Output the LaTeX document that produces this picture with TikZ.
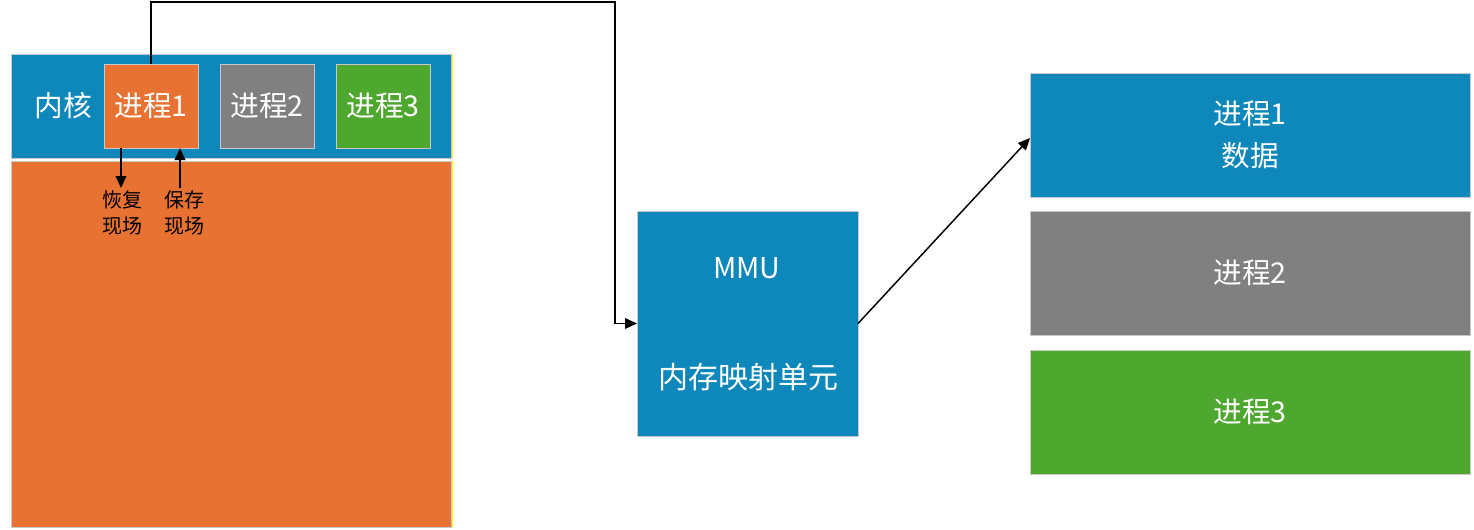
\documentclass[tikz,border=0pt]{standalone}
\usepackage{fontspec}
\setmainfont{Noto Sans CJK SC}
\usetikzlibrary{arrows.meta}
\definecolor{kblue}{HTML}{0E88BB}
\definecolor{korange}{HTML}{E87232}
\definecolor{kgray}{HTML}{808080}
\definecolor{kgreen}{HTML}{4EA72E}
\definecolor{kedge}{HTML}{C8C8C8}
\definecolor{kyellow}{HTML}{FFFF00}
\begin{document}
\begin{tikzpicture}[x=0.75pt,y=-0.75pt,
  box/.style 2 args={draw=kedge,line width=0.75pt,inner sep=0pt,outer sep=0pt,
    text=white,minimum width=#1*0.75pt,minimum height=#2*0.75pt,align=center},
  bigtxt/.style={font=\fontsize{21.5}{28}\selectfont},
  smalltxt/.style={font=\fontsize{15}{20}\selectfont,align=center,inner sep=0pt},
  conn/.style={draw=black,line width=1.1pt,-{Triangle[length=9pt,width=8pt]}},
  plain/.style={draw=black,line width=1.1pt}]
\useasboundingbox (0,0) rectangle (1474,529);
% kernel area
\node[box={440}{104},fill=kblue] (kernel) at (231,106) {};
\node[box={440}{366},fill=korange] (user) at (231,344) {};
\draw[kyellow,line width=1.3pt] (kernel.north east) ++(1.5,0) -- ++(0,104);
\draw[kyellow,line width=1.3pt] (user.north east) ++(1.5,0) -- ++(0,366);
\node[text=white,bigtxt] (klabel) at (63,106) {内核};
\node[box={94}{84},fill=korange,bigtxt] (p1) at (151,106) {进程1};
\node[box={94}{84},fill=kgray,bigtxt] (p2) at (267,106) {进程2};
\node[box={94}{84},fill=kgreen,bigtxt] (p3) at (383,106) {进程3};
% labels
\node[smalltxt] (restore) at (122,213) {恢复\\现场};
\node[smalltxt] (save) at (184,213) {保存\\现场};
\draw[conn] ([xshift=-30*0.75pt]p1.south) -- ([xshift=-30*0.75pt]p1.south |- 0,188);
\draw[conn] ([xshift=29*0.75pt]p1.south |- 0,188) -- ([xshift=29*0.75pt]p1.south);
% MMU
\node[box={221}{225},fill=kblue] (mmu) at (747.5,323.5) {};
\node[text=white,bigtxt] (mmut) at (747,268) {MMU};
\node[text=white,font=\fontsize{22.5}{28}\selectfont] (mmud) at (748,377) {内存映射单元};
% right side
\node[box={440}{124},fill=kblue,font=\fontsize{21.5}{31}\selectfont] (r1) at (1250,135) {进程1\\数据};
\node[box={440}{124},fill=kgray,bigtxt] (r2) at (1250,273) {进程2};
\node[box={440}{124},fill=kgreen,bigtxt] (r3) at (1250,412) {进程3};
% connectors
\coordinate (c1) at (151,2);
\coordinate (c2) at (615,2);
\draw[conn] (p1.north) -- (c1) -- (c2) -- (c2 |- mmu.west) -- (mmu.west);
\draw[conn] (mmu.east) -- ([yshift=-3*0.75pt]r1.west);
\end{tikzpicture}
\end{document}
